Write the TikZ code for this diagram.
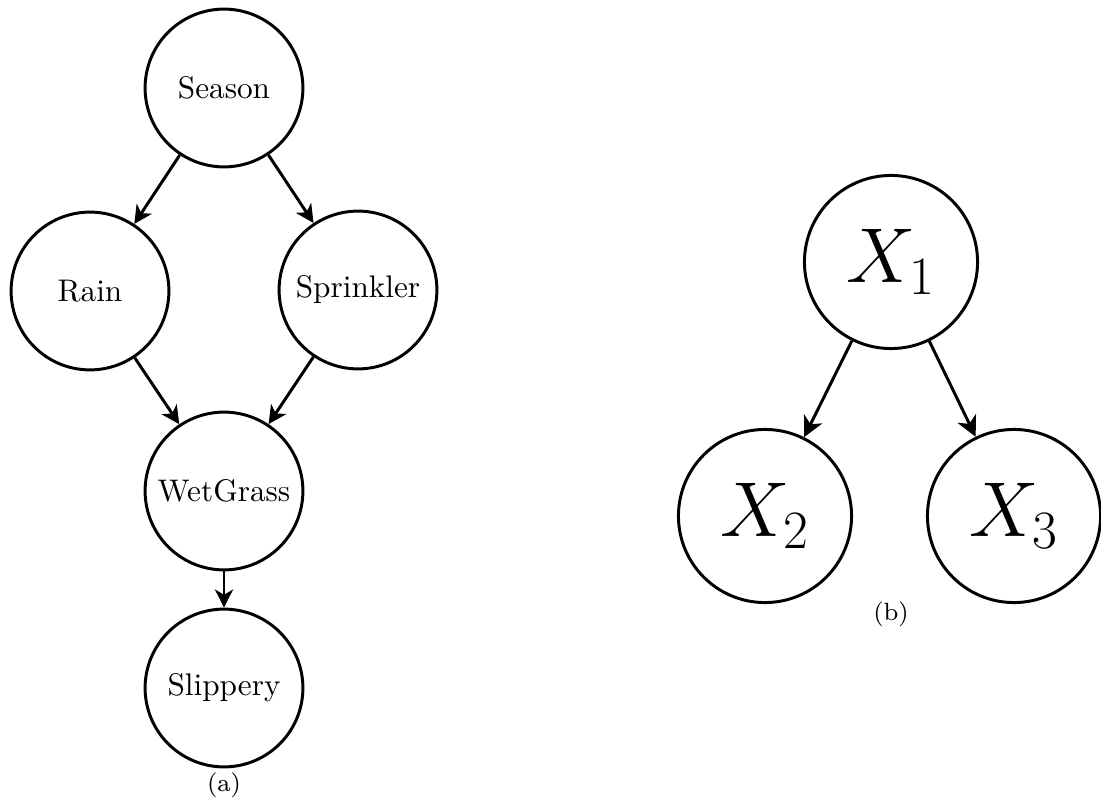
\documentclass[tikz,border=0pt]{standalone}
\usetikzlibrary{arrows.meta}
\tikzset{
  var/.style={circle, draw, line width=0.95pt, inner sep=0pt, minimum size=50.5pt, font=\fontsize{10}{12}\selectfont},
  bigvar/.style={circle, draw, line width=0.95pt, inner sep=0pt, minimum size=55.4pt, font=\fontsize{24}{28}\selectfont},
  edge/.style={line width=0.95pt, -{Stealth[length=5.8pt, width=5.8pt, inset=1.7pt]}},
  bigedge/.style={line width=0.95pt, -{Stealth[length=6.5pt, width=6.5pt, inset=1.9pt]}},
  sublabel/.style={font=\fontsize{8}{10}\selectfont, inner sep=0pt}
}
\begin{document}
\begin{tikzpicture}[x=0.32pt, y=-0.32pt]
\useasboundingbox (0,0) rectangle (1101,798);
% (a)
\node[var] (season) at (224,88) {Season};
\node[var] (rain) at (90,291) {Rain};
\node[var] (sprinkler) at (358,290) {Sprinkler};
\node[var] (wet) at (224,491) {WetGrass};
\node[var] (slip) at (224,688) {Slippery};
\node[sublabel] (capa) at (224,785) {(a)};
\draw[edge] (season) -- (rain);
\draw[edge] (season) -- (sprinkler);
\draw[edge] (rain) -- (wet);
\draw[edge] (sprinkler) -- (wet);
\draw[edge] (wet) -- (slip);
% (b)
\node[bigvar] (x1) at (891,262) {$X_1$};
\node[bigvar] (x2) at (765,516) {$X_2$};
\node[bigvar] (x3) at (1014,516) {$X_3$};
\node[sublabel] (capb) at (891,614) {(b)};
\draw[bigedge] (x1) -- (x2);
\draw[bigedge] (x1) -- (x3);
\end{tikzpicture}
\end{document}
